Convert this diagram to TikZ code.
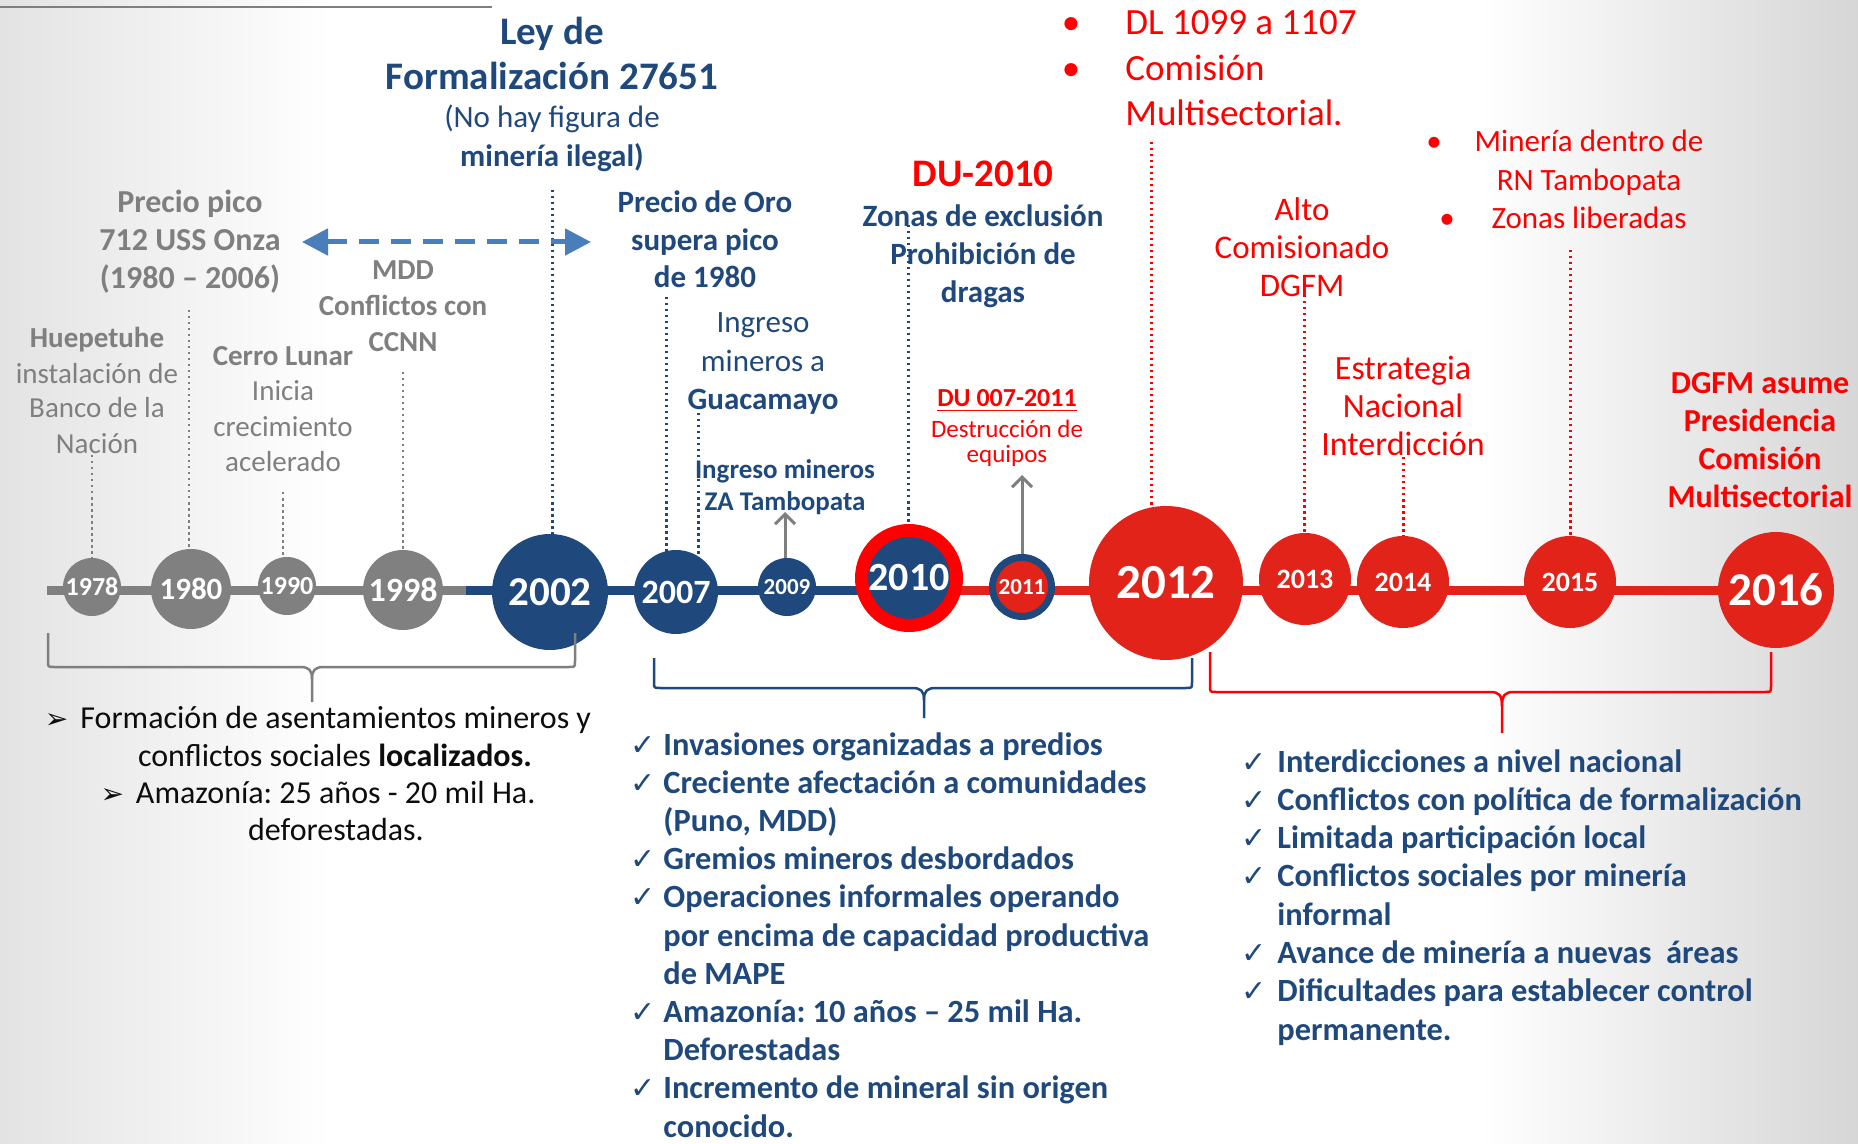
\documentclass[tikz,border=0pt]{standalone}
\usepackage{fontspec}
\setmainfont{Carlito}
\newfontfamily\dejavu{DejaVu Sans}
\usetikzlibrary{arrows.meta}
\definecolor{tgray}{HTML}{7F7F7F}
\definecolor{cgray}{HTML}{808080}
\definecolor{dblue}{HTML}{1F497D}
\definecolor{cred}{HTML}{E2231A}
\definecolor{tred}{HTML}{FF0000}
\definecolor{lblue}{HTML}{4A7EBB}
\definecolor{tblack}{HTML}{0D0D0D}
\newcommand\fsz[2]{\fontsize{#1}{#2}\selectfont}
\pgfdeclarelayer{bg}
\pgfdeclarelayer{lines}
\pgfsetlayers{bg,lines,main}
\frenchspacing
\begin{document}
\begin{tikzpicture}[x=0.5pt,y=-0.5pt,
  yr/.style={circle, inner sep=0pt, text=white},
  lbl/.style={align=center, inner sep=0pt, anchor=base},
  lbll/.style={align=left, inner sep=0pt, anchor=base west},
  dotg/.style={draw=tgray, line width=1.25pt, dash pattern=on 1.25pt off 1.75pt},
  dotb/.style={draw=dblue, line width=1.5pt, dash pattern=on 1.25pt off 1.75pt},
  dotr/.style={draw=tred, line width=1.5pt, dash pattern=on 1.25pt off 1.75pt},
  tl/.style={line width=4.5pt},
  brk/.style={line width=1.25pt, line join=round},
  item/.style={anchor=base west, inner sep=0pt, font=\bfseries\fsz{16.2}{16.2}, text=dblue},
  chk/.style={anchor=base west, inner sep=0pt, font=\dejavu\fsz{15}{15}, text=dblue},
  bul/.style={anchor=base, inner sep=0pt, text=tred},
  uparrow/.style={draw=tgray, line width=1.5pt, -{Straight Barb[length=5pt,width=10pt]}}
]
\useasboundingbox (0,0) rectangle (1858,1144);
\begin{pgfonlayer}{bg}
  \fill[white] (0,0) rectangle (1858,1144);
  \shade[left color=black!11, right color=white] (0,0) rectangle (330,1144);
  \shade[left color=white, right color=black!16] (1480,0) rectangle (1858,1144);
\end{pgfonlayer}

% top rule
\coordinate (top0) at (0,7);
\coordinate (top1) at (492,7);
\draw[tgray, line width=1pt] (top0) -- (top1);

% circles
\node[yr, fill=cgray, minimum size=29pt, font=\bfseries\fsz{13}{13}] (c1978) at (92,587) {1978};
\node[yr, fill=cgray, minimum size=40pt, font=\bfseries\fsz{15.5}{15.5}] (c1980) at (191,589) {1980};
\node[yr, fill=cgray, minimum size=29pt, font=\bfseries\fsz{13}{13}] (c1990) at (287,586) {1990};
\node[yr, fill=cgray, minimum size=40pt, font=\bfseries\fsz{17}{17}] (c1998) at (403,590) {1998};
\node[yr, fill=dblue, minimum size=58pt, font=\bfseries\fsz{20.5}{20.5}] (c2002) at (550,592) {2002};
\node[yr, fill=dblue, minimum size=42pt, font=\bfseries\fsz{17}{17}] (c2007) at (676,592) {2007};
\node[yr, fill=dblue, minimum size=29pt, font=\bfseries\fsz{11.5}{11.5}] (c2009) at (787,587) {2009};
\node[yr, fill=dblue, draw=tred, line width=6.5pt, minimum size=47.5pt, font=\bfseries\fsz{20}{20}] (c2010) at (909,578) {2010};
\node[yr, fill=cred, draw=dblue, line width=3.5pt, minimum size=29.5pt, font=\bfseries\fsz{11.5}{11.5}] (c2011) at (1022,587) {2011};
\node[yr, fill=cred, minimum size=77pt, font=\bfseries\fsz{24.5}{24.5}] (c2012) at (1166,583) {2012};
\node[yr, fill=cred, minimum size=46pt, font=\bfseries\fsz{14}{14}] (c2013) at (1305,579) {2013};
\node[yr, fill=cred, minimum size=46pt, font=\bfseries\fsz{14}{14}] (c2014) at (1403,582) {2014};
\node[yr, fill=cred, minimum size=46pt, font=\bfseries\fsz{14}{14}] (c2015) at (1570,582) {2015};
\node[yr, fill=cred, minimum size=58pt, font=\bfseries\fsz{23.5}{23.5}] (c2016) at (1776,590) {2016};

% timeline and dotted leaders
\begin{pgfonlayer}{lines}
  \coordinate (g0) at (47,590);
  \coordinate (g1) at (466,590);
  \draw[tl, cgray] (g0) -- (g1);
  \draw[tl, dblue] (g1) -- (g1 -| c2010.center);
  \draw[tl, cred] (g1 -| c2010.center) -- (g1 -| c2016.center);
  \coordinate (d1978) at (92,455);
  \coordinate (d1980) at (189,310);
  \coordinate (d1990) at (283,492);
  \coordinate (d1998) at (403,372);
  \coordinate (d2002) at (552,190);
  \coordinate (d2007a) at (666,297);
  \coordinate (d2007b) at (698,413);
  \coordinate (d2010) at (908,225);
  \coordinate (d2012) at (1151,142);
  \coordinate (d2013) at (1304,283);
  \coordinate (d2014) at (1403,457);
  \coordinate (d2015) at (1570,250);
  \draw[dotg] (d1978) -- (d1978 |- c1978.center);
  \draw[dotg] (d1980) -- (d1980 |- c1980.center);
  \draw[dotg] (d1990) -- (d1990 |- c1990.center);
  \draw[dotg] (d1998) -- (d1998 |- c1998.center);
  \draw[dotb] (d2002) -- (d2002 |- c2002.center);
  \draw[dotb] (d2007a) -- (d2007a |- c2007.center);
  \draw[dotb] (d2007b) -- (d2007b |- c2007.center);
  \draw[dotb] (d2010) -- (d2010 |- c2010.center);
  \draw[dotr] (d2012) -- (d2012 |- c2012.center);
  \draw[dotr] (d2013) -- (d2013 |- c2013.center);
  \draw[dotr] (d2014) -- (d2014 |- c2014.center);
  \draw[dotr] (d2015) -- (d2015 |- c2015.center);
\end{pgfonlayer}

% small arrows
\coordinate (a2009) at (785,512);
\coordinate (a2011) at (1022,475);
\draw[uparrow] (a2009 |- c2009.north) -- (a2009);
\draw[uparrow] (a2011 |- c2011.north) -- (a2011);

% dashed double arrow
\coordinate (da1) at (302,242);
\coordinate (da2) at (591,242);
\draw[lblue, line width=2.5pt, dash pattern=on 10pt off 6pt,
  {Triangle[length=13pt,width=13pt]}-{Triangle[length=13pt,width=13pt]}] (da1) -- (da2);

% gray labels (anchored at the baseline of the last line)
\node[lbl, text=tgray, font=\fsz{14.5}{17.5}] (huep) at (97,453) {\textbf{Huepetuhe}\\instalación de\\Banco de la\\Nación};
\node[lbl, text=tgray, font=\bfseries\fsz{16}{19}] (pico) at (190,289) {Precio pico\\712 USS Onza\\(1980 – 2006)};
\node[lbl, text=tgray, font=\fsz{14.5}{17.75}] (cerro) at (283,472) {\textbf{Cerro Lunar}\\Inicia\\crecimiento\\acelerado};
\node[lbl, text=tgray, font=\bfseries\fsz{14.5}{18}] (mdd) at (403,352) {MDD\\Conflictos con\\CCNN};

% blue labels
\node[lbl, text=dblue, font=\bfseries\fsz{19.5}{22.5}] (ley) at (552,90) {Ley de\\Formalización 27651};
\node[lbl, text=dblue, font=\fsz{15.5}{19.5}] (nohay) at (552,167) {(No hay figura de\\\textbf{minería ilegal)}};
\node[lbl, text=dblue, font=\bfseries\fsz{15.5}{18.75}] (oro) at (705,288) {Precio de Oro\\supera pico\\de 1980};
\node[lbl, text=dblue, font=\fsz{15.5}{19.25}] (guaca) at (763,410) {Ingreso\\mineros a\\\textbf{Guacamayo}};
\node[lbl, text=dblue, font=\bfseries\fsz{13.5}{16}] (zatam) at (785,510) {Ingreso mineros\\ZA Tambopata};
\node[lbl, text=tred, font=\bfseries\fsz{19.5}{19.5}] (du2010) at (983,187) {DU-2010};
\node[lbl, text=dblue, font=\bfseries\fsz{15.5}{19}] (zonas) at (983,303) {Zonas de exclusión\\Prohibición de\\dragas};
\node[lbl, text=tred, font=\bfseries\fsz{13}{13}] (du007) at (1007,407) {\underline{DU 007-2011}};
\node[lbl, text=tred, font=\fsz{12.5}{13}] (destr) at (1007,463) {Destrucción de\\equipos};

% red labels
\node[bul, font=\fsz{18.5}{18.5}] (bdl1) at (1071,35) {•};
\node[bul, font=\fsz{18.5}{18.5}] (bdl2) at (1071,81) {•};
\node[lbll, text=tred, font=\fsz{18.5}{22.75}] (dl) at (1125,126) {DL 1099 a 1107\\Comisión\\Multisectorial.};
\node[lbl, text=tred, font=\fsz{16.5}{19}] (alto) at (1302,297) {Alto\\Comisionado\\DGFM};
\node[bul, font=\fsz{15.5}{15.5}] (bmin1) at (1434,152) {•};
\node[bul, font=\fsz{15.5}{15.5}] (bmin2) at (1447,229) {•};
\node[lbl, text=tred, font=\fsz{15.5}{19.25}] (mineria) at (1589,229) {Minería dentro de\\RN Tambopata\\Zonas liberadas};
\node[lbl, text=tred, font=\fsz{17}{19}] (estr) at (1403,456) {Estrategia\\Nacional\\Interdicción};
\node[lbl, text=tred, font=\bfseries\fsz{16}{19}] (dgfm) at (1760,508) {DGFM asume\\Presidencia\\Comisión\\Multisectorial};

% brackets
\draw[brk, draw=tgray] (48,633) -- (48,661) .. controls (48,667) .. (54,667) -- (300,667) .. controls (309,667) and (312,670) .. (312,679) -- (312,702);
\draw[brk, draw=tgray] (575,633) -- (575,661) .. controls (575,667) .. (569,667) -- (324,667) .. controls (315,667) and (312,670) .. (312,679);
\draw[brk, draw=dblue] (654,658) -- (654,682) .. controls (654,688) .. (660,688) -- (912,688) .. controls (921,688) and (924,691) .. (924,700) -- (924,718);
\draw[brk, draw=dblue] (1192,658) -- (1192,682) .. controls (1192,688) .. (1186,688) -- (936,688) .. controls (927,688) and (924,691) .. (924,700);
\draw[brk, draw=tred] (1210,652) -- (1210,686) .. controls (1210,692) .. (1216,692) -- (1490,692) .. controls (1499,692) and (1502,695) .. (1502,706) -- (1502,733);
\draw[brk, draw=tred] (1771,652) -- (1771,686) .. controls (1771,692) .. (1765,692) -- (1514,692) .. controls (1505,692) and (1502,695) .. (1502,706);

% left text
\node[anchor=base, inner sep=0pt, text=tblack, font=\fsz{16}{16}] (l1) at (318,728) {{\dejavu\fsz{14}{14}➢}\hspace{6pt}Formación de asentamientos mineros y};
\node[anchor=base, inner sep=0pt, text=tblack, font=\fsz{16}{16}] (l2) at (335,766) {conflictos sociales \textbf{localizados.}};
\node[anchor=base, inner sep=0pt, text=tblack, font=\fsz{16}{16}] (l3) at (318,803) {{\dejavu\fsz{14}{14}➢}\hspace{6pt}Amazonía: 25 años - 20 mil Ha.};
\node[anchor=base, inner sep=0pt, text=tblack, font=\fsz{16}{16}] (l4) at (336,840) {deforestadas.};

% blue list
\foreach \t [count=\i from 0] in {Invasiones organizadas a predios, Creciente afectación a comunidades, {(Puno, MDD)}, Gremios mineros desbordados, Operaciones informales operando, por encima de capacidad productiva, de MAPE, Amazonía: 10 años – 25 mil Ha., Deforestadas, Incremento de mineral sin origen, conocido.}
  \node[item] (bl\i) at (663,{755+38.2*\i}) {\t};
\foreach \i in {0,1,3,4,7,9}
  \node[chk] (bc\i) at (630,{755+38.2*\i}) {✓};

% red-period list
\foreach \t [count=\i from 0] in {Interdicciones a nivel nacional, Conflictos con política de formalización, Limitada participación local, Conflictos sociales por minería, informal, Avance de minería a nuevas \ áreas, Dificultades para establecer control, permanente.}
  \node[item] (rl\i) at (1277,{772+38.3*\i}) {\t};
\foreach \i in {0,1,2,3,5,6}
  \node[chk] (rc\i) at (1241,{772+38.3*\i}) {✓};
\end{tikzpicture}
\end{document}
